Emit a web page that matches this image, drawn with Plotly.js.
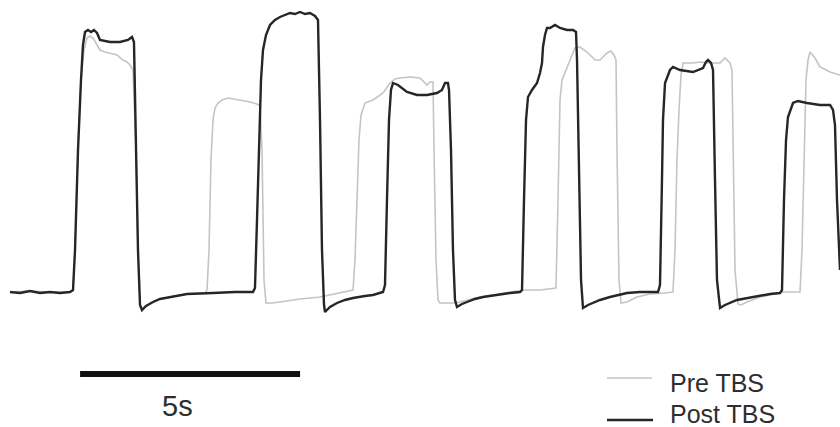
<!DOCTYPE html>
<html>
<head>
<meta charset="utf-8">
<script src="https://cdn.plot.ly/plotly-3.0.1.min.js"></script>
<style>
  html, body { margin: 0; padding: 0; background: #ffffff; }
  #chart { width: 840px; height: 427px; }
</style>
</head>
<body>
<div id="chart"></div>
<script>
// Time (s) and signal (a.u., baseline = 0) for the recording before TBS
const preTime = [0.227, 0.682, 1.136, 1.591, 1.659, 1.705, 1.773, 1.841, 1.909, 1.977, 2.045, 2.114, 2.205, 2.273, 2.386, 2.5, 2.659, 2.795, 2.886, 2.955, 3.023, 3.091, 3.136, 3.182, 3.227, 3.318, 3.477, 3.636, 3.864, 4.25, 4.659, 4.705, 4.75, 4.795, 4.841, 4.886, 4.955, 5.045, 5.182, 5.455, 5.682, 5.841, 5.909, 5.955, 6.0, 6.045, 6.182, 6.364, 6.818, 7.273, 7.727, 8.023, 8.068, 8.114, 8.159, 8.205, 8.295, 8.477, 8.705, 8.864, 8.977, 9.091, 9.318, 9.545, 9.705, 9.773, 9.841, 9.864, 9.909, 9.955, 10.0, 10.295, 10.455, 10.795, 11.364, 11.886, 12.273, 12.636, 12.682, 12.705, 12.727, 12.773, 12.886, 13.0, 13.068, 13.182, 13.341, 13.523, 13.636, 13.795, 13.886, 13.955, 14.0, 14.023, 14.068, 14.114, 14.25, 14.477, 14.773, 15.114, 15.295, 15.341, 15.386, 15.432, 15.477, 15.523, 15.75, 15.909, 16.068, 16.25, 16.364, 16.477, 16.591, 16.636, 16.659, 16.705, 16.773, 16.841, 16.977, 17.273, 17.795, 18.182, 18.227, 18.273, 18.318, 18.364, 18.409, 18.523, 18.636, 18.864, 19.091];
const preSignal = [0, 1, 0, 0, 2, 42, 142, 212, 242, 254, 256, 254, 247, 242, 240, 239, 237, 232, 230, 227, 222, 142, 42, -13, -18, -14, -10, -7, -5, -2, -1, 2, 42, 132, 172, 184, 189, 192, 194, 192, 190, 188, 186, 142, 12, -11, -11, -10, -7, -5, -1, 2, 32, 92, 152, 177, 189, 192, 199, 209, 213, 214, 215, 214, 207, 210, 210, 142, 32, -8, -11, -11, -10, -6, -2, 2, 2, 4, 92, 162, 192, 212, 224, 235, 244, 245, 240, 232, 232, 239, 241, 237, 232, 142, 12, -11, -10, -5, -2, -1, 0, 42, 132, 182, 217, 229, 229, 230, 229, 229, 229, 234, 229, 222, 142, 22, -12, -13, -10, -5, 0, 0, 42, 142, 212, 232, 240, 234, 225, 220, 217];

// Time (s) and signal (a.u.) for the recording after TBS
const postTime = [0.227, 0.455, 0.682, 0.909, 1.136, 1.364, 1.591, 1.659, 1.705, 1.773, 1.841, 1.886, 1.932, 2.0, 2.068, 2.136, 2.205, 2.273, 2.5, 2.727, 2.909, 3.0, 3.045, 3.091, 3.136, 3.182, 3.227, 3.318, 3.477, 3.636, 3.864, 4.25, 4.841, 5.341, 5.75, 5.795, 5.841, 5.886, 5.932, 5.977, 6.045, 6.136, 6.25, 6.364, 6.477, 6.591, 6.705, 6.818, 6.932, 7.045, 7.159, 7.227, 7.273, 7.318, 7.364, 7.386, 7.5, 7.659, 7.841, 8.023, 8.295, 8.477, 8.705, 8.75, 8.795, 8.841, 8.886, 8.932, 9.045, 9.159, 9.25, 9.477, 9.705, 9.932, 10.045, 10.114, 10.182, 10.205, 10.25, 10.295, 10.341, 10.386, 10.5, 10.614, 10.795, 10.977, 11.364, 11.591, 11.818, 11.864, 11.909, 11.955, 12.0, 12.091, 12.205, 12.273, 12.318, 12.341, 12.386, 12.432, 12.5, 12.568, 12.614, 12.727, 12.886, 13.023, 13.091, 13.114, 13.159, 13.205, 13.25, 13.364, 13.636, 13.864, 14.25, 14.545, 14.955, 15.0, 15.045, 15.068, 15.114, 15.182, 15.227, 15.295, 15.455, 15.75, 15.977, 16.045, 16.091, 16.159, 16.205, 16.25, 16.295, 16.364, 16.477, 16.75, 17.114, 17.5, 17.727, 17.773, 17.818, 17.864, 17.909, 18.023, 18.136, 18.341, 18.636, 18.864, 18.932, 18.977, 19.023, 19.091];
const postSignal = [0, -1, 1, -1, 0, -1, 0, 2, 42, 142, 212, 247, 260, 262, 260, 262, 259, 252, 250, 250, 252, 255, 250, 142, 42, -13, -18, -14, -10, -7, -5, -2, -1, 0, 0, 4, 72, 152, 212, 242, 257, 267, 272, 275, 277, 279, 278, 280, 278, 279, 276, 272, 172, 42, -13, -20, -15, -11, -8, -6, -4, -3, 0, 7, 92, 172, 202, 209, 207, 203, 200, 197, 197, 199, 202, 209, 209, 202, 142, 42, -8, -15, -12, -10, -7, -5, -2, -1, 0, 2, 92, 172, 195, 202, 209, 219, 229, 245, 257, 264, 264, 266, 267, 264, 262, 262, 260, 232, 112, 12, -16, -13, -8, -5, -1, 0, 0, 7, 112, 172, 209, 217, 222, 225, 222, 220, 224, 230, 232, 229, 222, 112, 12, -16, -13, -8, -5, -2, -1, 2, 92, 152, 175, 189, 191, 189, 187, 187, 182, 167, 92, 22];

const seriesNames = ['Pre TBS', 'Post TBS'];
const scaleBarSeconds = 5;
const scaleBarLabel = '5s';

const preColor = '#c4c4c4';
const postColor = '#262626';

const traces = [
  {
    x: preTime, y: preSignal, name: seriesNames[0],
    type: 'scatter', mode: 'lines',
    line: { color: preColor, width: 1.6 },
    hoverinfo: 'skip'
  },
  {
    x: postTime, y: postSignal, name: seriesNames[1],
    type: 'scatter', mode: 'lines',
    line: { color: postColor, width: 2.4 },
    hoverinfo: 'skip'
  }
];

const barStart = 1.82;
const textFont = { family: 'Liberation Sans, Arial, sans-serif', color: '#2e2e2e' };

const layout = {
  width: 840, height: 427,
  margin: { l: 0, r: 0, t: 0, b: 0 },
  paper_bgcolor: '#ffffff', plot_bgcolor: '#ffffff',
  showlegend: false,
  xaxis: { range: [0, 19.0909], visible: false, fixedrange: true },
  yaxis: { range: [-135, 292], visible: false, fixedrange: true },
  shapes: [
    // time scale bar
    { type: 'line', xref: 'x', yref: 'paper',
      x0: barStart, x1: barStart + scaleBarSeconds, y0: 0.1241, y1: 0.1241,
      line: { color: '#111111', width: 6 } },
    // key swatches
    { type: 'line', xref: 'paper', yref: 'paper',
      x0: 0.7226, x1: 0.7762, y0: 0.1148, y1: 0.1148,
      line: { color: preColor, width: 1.6 } },
    { type: 'line', xref: 'paper', yref: 'paper',
      x0: 0.7226, x1: 0.7774, y0: 0.0164, y1: 0.0164,
      line: { color: postColor, width: 2.4 } }
  ],
  annotations: [
    { text: scaleBarLabel, xref: 'x', yref: 'paper',
      x: barStart + 2.21, y: 0.0492,
      xanchor: 'center', yanchor: 'middle', showarrow: false,
      font: Object.assign({ size: 29 }, textFont) },
    { text: seriesNames[0], xref: 'paper', yref: 'paper',
      x: 0.7952, y: 0.1019, xanchor: 'left', yanchor: 'middle', showarrow: false,
      font: Object.assign({ size: 25 }, textFont) },
    { text: seriesNames[1], xref: 'paper', yref: 'paper',
      x: 0.7952, y: 0.0316, xanchor: 'left', yanchor: 'middle', showarrow: false,
      font: Object.assign({ size: 25 }, textFont) }
  ]
};

Plotly.newPlot('chart', traces, layout, { displayModeBar: false, staticPlot: true });
</script>
</body>
</html>
